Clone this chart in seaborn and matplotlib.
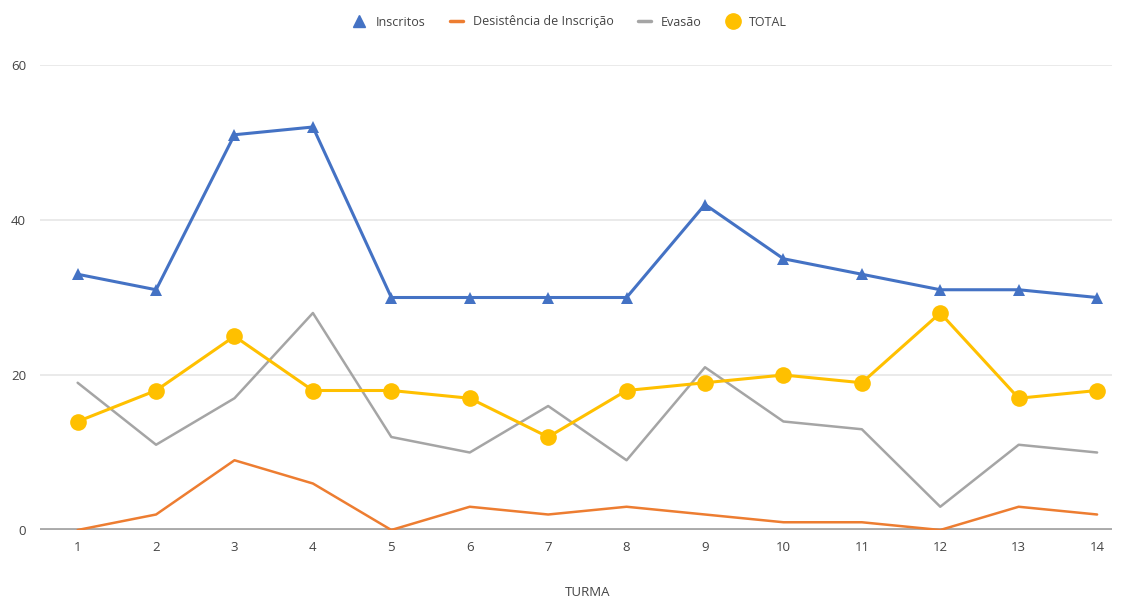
import numpy as np
import pandas as pd
import seaborn as sns
import matplotlib.pyplot as plt
from matplotlib.lines import Line2D

turma = list(range(1, 15))
inscritos = [33, 31, 51, 52, 30, 30, 30, 30, 42, 35, 33, 31, 31, 30]
desistencia = [0, 2, 9, 6, 0, 3, 2, 3, 2, 1, 1, 0, 3, 2]
evasao = [19, 11, 17, 28, 12, 10, 16, 9, 21, 14, 13, 3, 11, 10]
total = [14, 18, 25, 18, 18, 17, 12, 18, 19, 20, 19, 28, 17, 18]
y_ticks = [0, 20, 40, 60]

blue = '#4472C4'
orange = '#ED7D31'
gray = '#A5A5A5'
gold = '#FFC000'

sns.set_style('white')
plt.rcParams['font.family'] = ['Open Sans', 'DejaVu Sans']

df = pd.DataFrame({'turma': turma, 'Inscritos': inscritos,
                   'Desistência de Inscrição': desistencia,
                   'Evasão': evasao, 'TOTAL': total})

fig = plt.figure(figsize=(11.26, 6.01), dpi=100)
ax = fig.add_axes([40 / 1126, 1 - 530 / 601, 1072 / 1126, 465 / 601])

for y in y_ticks[1:]:
    ax.axhline(y, color='#e6e6e6', lw=1.2, zorder=0)
ax.axhline(0, color='#aaaaaa', lw=2.8, zorder=1)

sns.lineplot(data=df, x='turma', y='Evasão', color=gray, lw=1.8, ax=ax, zorder=2)
sns.lineplot(data=df, x='turma', y='Desistência de Inscrição', color=orange, lw=1.8, ax=ax, zorder=3)
sns.lineplot(data=df, x='turma', y='TOTAL', color=gold, lw=2.2, marker='o',
             markersize=12, markeredgewidth=0, ax=ax, zorder=4)
sns.lineplot(data=df, x='turma', y='Inscritos', color=blue, lw=2.2, marker='^',
             markersize=8, markeredgewidth=0, ax=ax, zorder=5)

ax.set_xlim(0.52, 14.19)
ax.set_ylim(0, 60)
ax.set_xticks(turma)
ax.set_yticks(y_ticks)
ax.tick_params(axis='both', length=0, labelsize=9.5, colors='#444444')
ax.tick_params(axis='x', pad=8)
ax.tick_params(axis='y', pad=10)
for s in ax.spines.values():
    s.set_visible(False)
ax.set_ylabel('')
ax.set_xlabel('')
fig.text(588 / 1126, 1 - 592 / 601, 'TURMA', ha='center', va='center',
         fontsize=9.5, color='#444444')

handles = [
    Line2D([], [], color=blue, marker='^', ls='none', markersize=8),
    Line2D([], [], color=orange, lw=2.5),
    Line2D([], [], color=gray, lw=2.5),
    Line2D([], [], color=gold, marker='o', ls='none', markersize=11),
]
labels = ['Inscritos', 'Desistência de Inscrição', 'Evasão', 'TOTAL']
fig.legend(handles, labels, loc='center', bbox_to_anchor=(570 / 1126, 1 - 22 / 601),
           ncol=4, frameon=False, fontsize=9, handlelength=1.0, columnspacing=2.0,
           labelcolor='#444444')

fig.savefig('out.png', dpi=100, facecolor='white')
